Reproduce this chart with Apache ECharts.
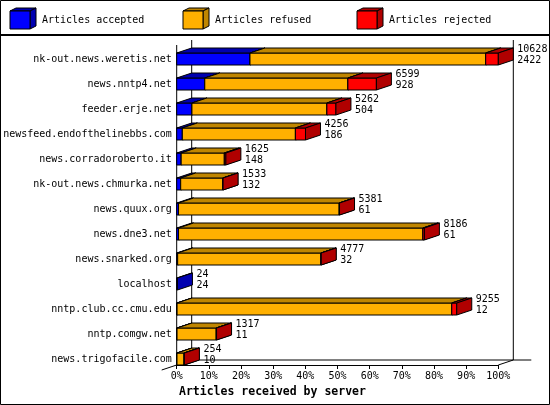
<!DOCTYPE html>
<html>
<head>
<meta charset="utf-8">
<script src="https://cdn.jsdelivr.net/npm/echarts@6/dist/echarts.min.js"></script>
<style>
html,body{margin:0;padding:0;background:#fff;}
#chart{width:550px;height:405px;}
</style>
</head>
<body>
<div id="chart"></div>
<script>
// ---- data ----
const hosts = [
  'nk-out.news.weretis.net',
  'news.nntp4.net',
  'feeder.erje.net',
  'newsfeed.endofthelinebbs.com',
  'news.corradoroberto.it',
  'nk-out.news.chmurka.net',
  'news.quux.org',
  'news.dne3.net',
  'news.snarked.org',
  'localhost',
  'nntp.club.cc.cmu.edu',
  'nntp.comgw.net',
  'news.trigofacile.com'
];
const accepted = [2422, 928, 504, 186, 148, 132, 61, 61, 32, 24, 12, 11, 10];
const refused  = [7789, 4729, 4459, 3737, 1427, 1391, 5310, 8075, 4735, 0, 9078, 1296, 234];
const rejected = [417, 942, 299, 333, 50, 10, 10, 50, 10, 0, 165, 10, 10];
const seriesNames = ['Articles accepted', 'Articles refused', 'Articles rejected'];
const axisTitle = 'Articles received by server';

// ---- derived ----
const totals = hosts.map((_, i) => accepted[i] + refused[i] + rejected[i]);
const maxTotal = Math.max(...totals);
const pct = v => v / maxTotal * 100;
const barData = hosts.map((h, i) => [i, pct(accepted[i]), pct(refused[i]), pct(rejected[i]), totals[i], accepted[i]]);

// ---- styles ----
const FONT = '"DejaVu Sans Mono", "Liberation Mono", monospace';
const front = ['#0000FF', '#FFB000', '#FF0000'];
const shade = ['#0000B0', '#C08600', '#B00000'];
const DX = 15, DY = 5, BAR_H = 12;

function renderBars(params, api) {
  const idx = api.value(0);
  const vals = [api.value(1), api.value(2), api.value(3)];
  const c = api.coord([0, idx]);
  const yc = c[1];
  const top = yc - BAR_H / 2, bot = yc + BAR_H / 2;
  const children = [];
  let cum = 0;
  let xe = c[0];
  for (let k = 0; k < 3; k++) {
    if (vals[k] <= 0) continue;
    const xs = api.coord([cum, idx])[0];
    cum += vals[k];
    xe = api.coord([cum, idx])[0];
    children.push({type: 'rect', shape: {x: xs, y: top, width: xe - xs, height: BAR_H},
      style: {fill: front[k], stroke: '#000', lineWidth: 1}});
    children.push({type: 'polygon', shape: {points: [[xs, top], [xs + DX, top - DY], [xe + DX, top - DY], [xe, top]]},
      style: {fill: shade[k], stroke: '#000', lineWidth: 1}});
    children.push({type: 'polygon', shape: {points: [[xe, top], [xe + DX, top - DY], [xe + DX, bot - DY], [xe, bot]]},
      style: {fill: shade[k], stroke: '#000', lineWidth: 1}});
  }
  children.push({type: 'text', x: xe + DX + 4, y: yc - 4,
    style: {text: api.value(4) + '\n' + api.value(5), font: '10px ' + FONT, fill: '#000',
      align: 'left', verticalAlign: 'middle', lineHeight: 11.4}});
  return {type: 'group', children};
}

function renderFrame(params, api) {
  const n = hosts.length;
  const a = api.coord([0, 0]);
  const b = api.coord([100, n - 1]);
  const x0 = a[0], x1 = b[0];
  const yTop = a[1] - 14, yBot = b[1] + BAR_H / 2;
  const ls = {stroke: '#000', lineWidth: 1};
  const L = (p, q) => ({type: 'line', shape: {x1: p[0], y1: p[1], x2: q[0], y2: q[1]}, style: ls});
  return {type: 'group', children: [
    L([x0, yTop], [x0, yBot]),
    L([x0 + DX, yTop - DY], [x0 + DX, yBot - DY]),
    L([x1 + DX, yTop - DY], [x1 + DX, yBot - DY]),
    L([x0 + DX, yBot - DY], [x1 + DX + 18, yBot - DY]),
    L([x1, yBot], [x1 + DX, yBot - DY]),
    L([x0 - DX, yBot + DY], [x0 + DX, yBot - DY])
  ]};
}

// legend graphic
const legendX = [10, 183, 357];
const legendGraphics = [];
seriesNames.forEach((name, k) => {
  const x = legendX[k], y = 11, w = 20, h = 18, dx = 6, dy = 3;
  legendGraphics.push({type: 'polygon', shape: {points: [[x, y], [x + dx, y - dy], [x + w + dx, y - dy], [x + w, y]]},
    style: {fill: shade[k], stroke: '#000', lineWidth: 1}});
  legendGraphics.push({type: 'polygon', shape: {points: [[x + w, y], [x + w + dx, y - dy], [x + w + dx, y + h - dy], [x + w, y + h]]},
    style: {fill: shade[k], stroke: '#000', lineWidth: 1}});
  legendGraphics.push({type: 'rect', shape: {x: x, y: y, width: w, height: h},
    style: {fill: front[k], stroke: '#000', lineWidth: 1}});
  legendGraphics.push({type: 'text', x: x + 32, y: 20,
    style: {text: name, font: '10px ' + FONT, fill: '#000', verticalAlign: 'middle'}});
});

const chart = echarts.init(document.getElementById('chart'), null, {renderer: 'canvas'});
chart.setOption({
  backgroundColor: '#fff',
  animation: false,
  grid: {left: 176.7, right: 51.7, top: 46.5, bottom: 33.5, containLabel: false},
  xAxis: {
    type: 'value', min: 0, max: 100, interval: 10, offset: -6.5,
    axisLine: {show: true, lineStyle: {color: '#000', width: 1}},
    axisTick: {show: true, length: 4, lineStyle: {color: '#000'}},
    axisLabel: {formatter: '{value}%', margin: 6, fontFamily: FONT, fontSize: 10, color: '#000'},
    splitLine: {show: false}
  },
  yAxis: {
    type: 'category', data: hosts, inverse: true,
    axisLine: {show: false}, axisTick: {show: false},
    axisLabel: {margin: 5, fontFamily: FONT, fontSize: 10, color: '#000'},
    splitLine: {show: false}
  },
  graphic: [
    {type: 'rect', shape: {x: 0.5, y: 0.5, width: 549, height: 404}, style: {fill: null, stroke: '#000', lineWidth: 1}, z: 10},
    {type: 'line', shape: {x1: 0, y1: 35, x2: 550, y2: 35}, style: {stroke: '#000', lineWidth: 2}, z: 10},
    {type: 'text', x: 179, y: 392, style: {text: axisTitle, font: 'bold 11.5px ' + FONT, fill: '#000', verticalAlign: 'middle'}, z: 10},
    ...legendGraphics.map(g => Object.assign(g, {z: 10}))
  ],
  series: [
    {type: 'custom', name: 'frame', renderItem: renderFrame, data: [[0, 0]], encode: {x: 0, y: 1}, z: 1, clip: false, silent: true},
    {type: 'custom', name: 'bars', renderItem: renderBars, data: barData, encode: {x: [1, 2, 3], y: 0}, z: 2, clip: false, silent: true}
  ]
});
</script>
</body>
</html>
